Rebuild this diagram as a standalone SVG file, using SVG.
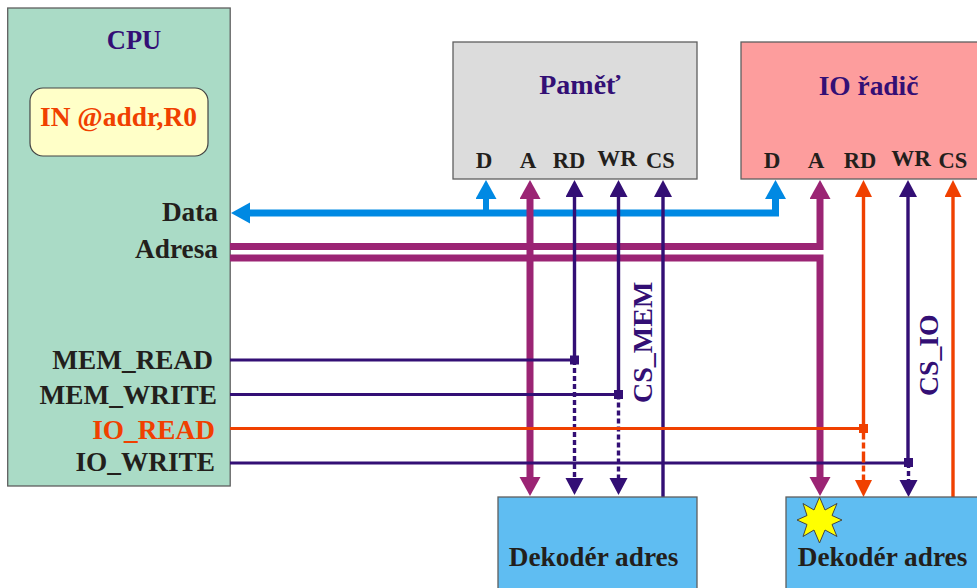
<svg xmlns="http://www.w3.org/2000/svg" width="977" height="588" viewBox="0 0 977 588">
<defs>
<style>
text{font-family:"Liberation Serif","Times New Roman",serif;font-weight:bold;fill:#231f1c}
.navy{fill:#330f75}.or{fill:#f04000}
.box{stroke:#5f5f5f;stroke-width:1.3}
.l{fill:none}
.blue{stroke:#0089e3}.pur{stroke:#9b2474}.nv{stroke:#330f75}.og{stroke:#f04000}
.thick{stroke-width:7}.thin{stroke-width:3.4}.hl{stroke-width:3}
.dash{stroke-dasharray:5 3}
</style>
<marker id="hBlue" markerUnits="userSpaceOnUse" markerWidth="20" markerHeight="22" refX="0" refY="10.5" orient="auto"><path d="M0 0L19 10.5L0 21Z" fill="#0089e3"/></marker>
<marker id="hPur" markerUnits="userSpaceOnUse" markerWidth="20" markerHeight="22" refX="0" refY="10.5" orient="auto"><path d="M0 0L19 10.5L0 21Z" fill="#9b2474"/></marker>
<marker id="hNv" markerUnits="userSpaceOnUse" markerWidth="18" markerHeight="20" refX="0" refY="9" orient="auto"><path d="M0 0L17 9L0 18Z" fill="#330f75"/></marker>
<marker id="hOg" markerUnits="userSpaceOnUse" markerWidth="18" markerHeight="20" refX="0" refY="8.5" orient="auto"><path d="M0 0L17 8.5L0 17Z" fill="#f04000"/></marker>
</defs>
<rect width="977" height="588" fill="#fff"/>
<g id="cpu">
<rect class="box" x="7.7" y="8" width="222.5" height="478" fill="#aadbc6"/>
<text class="navy" x="134" y="49" font-size="26.500" text-anchor="middle">CPU</text>
<rect x="30" y="88" width="178" height="68" rx="13" fill="#ffffc8" stroke="#444" stroke-width="1.2"/>
<text class="or" x="118.500" y="126" font-size="27.400" text-anchor="middle">IN @addr,R0</text>
<text x="218" y="221" font-size="27.300" text-anchor="end">Data</text>
<text x="218" y="258" font-size="27.300" text-anchor="end">Adresa</text>
<text x="213" y="369" font-size="27.300" text-anchor="end">MEM_READ</text>
<text x="217" y="404" font-size="27.300" text-anchor="end">MEM_WRITE</text>
<text class="or" x="215" y="439" font-size="27.300" text-anchor="end">IO_READ</text>
<text x="215" y="471" font-size="27.300" text-anchor="end">IO_WRITE</text>
</g>
<g id="pamet">
<rect class="box" x="453" y="42" width="244" height="137" fill="#dcdcdc"/>
<text class="navy" x="580" y="94" font-size="28" text-anchor="middle">Paměť</text>
<text x="484" y="168" font-size="23" text-anchor="middle">D</text>
<text x="528" y="168" font-size="23" text-anchor="middle">A</text>
<text x="569" y="168" font-size="22.500" text-anchor="middle">RD</text>
<text x="617" y="166" font-size="23" text-anchor="middle">WR</text>
<text x="660.500" y="168" font-size="22.500" text-anchor="middle">CS</text>
</g>
<g id="io-radic">
<rect class="box" x="741" y="42" width="240" height="137" fill="#fd9d9d"/>
<text class="navy" x="868.500" y="95" font-size="27.400" text-anchor="middle">IO řadič</text>
<text x="772" y="168" font-size="23" text-anchor="middle">D</text>
<text x="816" y="168" font-size="23" text-anchor="middle">A</text>
<text x="860" y="168" font-size="22.500" text-anchor="middle">RD</text>
<text x="911" y="166" font-size="23" text-anchor="middle">WR</text>
<text x="953" y="168" font-size="22.500" text-anchor="middle">CS</text>
</g>
<g id="connectors">
<path class="l blue thick" d="M250 213H775.500V199" marker-end="url(#hBlue)"/>
<path class="l blue" stroke-width="1" d="M251 213H250" marker-end="url(#hBlue)"/>
<path class="l blue" stroke-width="6" d="M486 213V199" marker-end="url(#hBlue)"/>
<path class="l pur thick" d="M230 246.500H820V199" marker-end="url(#hPur)"/>
<path class="l pur thick" d="M230 258H820V477" marker-end="url(#hPur)"/>
<path class="l pur thick" d="M530 258V199" marker-end="url(#hPur)"/>
<path class="l pur thick" d="M530 258V477" marker-end="url(#hPur)"/>
<path class="l nv thin" d="M574.500 360V197" marker-end="url(#hNv)"/>
<path class="l nv thin" d="M618.500 394.500V197" marker-end="url(#hNv)"/>
<path class="l nv thin" d="M663 497V197" marker-end="url(#hNv)"/>
<path class="l nv thin dash" d="M574.500 360V478" marker-end="url(#hNv)"/>
<path class="l nv thin dash" d="M618.500 394.500V478" marker-end="url(#hNv)"/>
<path class="l nv hl" d="M230 360H574.500M230 394.500H618.500M230 463H908"/>
<path class="l og hl" d="M230 428.500H863.500"/>
<path class="l og thin" d="M863.500 428.500V197" marker-end="url(#hOg)"/>
<path class="l og thin" d="M953 497V197" marker-end="url(#hOg)"/>
<path class="l nv thin" d="M908 463V197" marker-end="url(#hNv)"/>
<path class="l og thin" style="stroke-dasharray:11 3 6 3" d="M863.500 428.500V480" marker-end="url(#hOg)"/>
<path class="l nv thin dash" d="M908.500 463V480" marker-end="url(#hNv)"/>
<rect x="570" y="355.500" width="9" height="9" fill="#330f75"/>
<rect x="614" y="390" width="9" height="9" fill="#330f75"/>
<rect x="859" y="424" width="9" height="9" fill="#f04000"/>
<rect x="904" y="458" width="9" height="9" fill="#330f75"/>
</g>
<g id="cs-mem"><text class="navy" transform="translate(652 403) rotate(-90)" font-size="28">CS_MEM</text></g>
<g id="cs-io"><text class="navy" transform="translate(938 396) rotate(-90)" font-size="27.700">CS_IO</text></g>
<g id="dekoder-mem">
<rect class="box" x="498" y="497" width="199" height="95" fill="#5fbdf2"/>
<text x="593.500" y="566" font-size="27.300" text-anchor="middle">Dekodér adres</text>
</g>
<g id="dekoder-io">
<rect class="box" x="786" y="497" width="195" height="95" fill="#5fbdf2"/>
<path d="M819.500 497L825 510L837 503.500L832 515.500L842 520L832 524.500L837 536.500L825 530L819.500 543L814 530L803 536.500L807 524.500L797 520L807 515.500L803 503.500L814 510Z" fill="#ffff00" stroke="#444" stroke-width="1"/>
<text x="882.500" y="566" font-size="27.300" text-anchor="middle">Dekodér adres</text>
</g>
</svg>
